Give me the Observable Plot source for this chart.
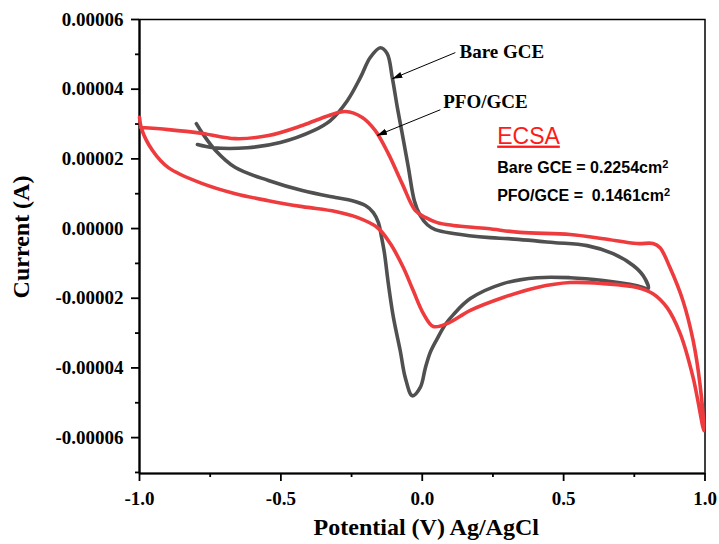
<!DOCTYPE html>
<html>
<head>
<meta charset="utf-8">
<script src="https://cdn.jsdelivr.net/npm/d3@7"></script>
<script src="https://cdn.jsdelivr.net/npm/@observablehq/plot@0.6"></script>
<style>
  html, body { margin: 0; padding: 0; background: #fff; }
</style>
</head>
<body>
<div id="chart"></div>
<script>
// Bare GCE cyclic voltammogram (potential V, current A)
const bareX = [-0.795, -0.739, -0.618, -0.502, -0.385, -0.325, -0.265, -0.219, -0.184, -0.148, -0.124, -0.106, -0.088, -0.071, -0.049, -0.028, -0.007, 0.018, 0.046, 0.110, 0.240, 0.304, 0.463, 0.583, 0.675, 0.746, 0.781, 0.799,
  0.760, 0.640, 0.523, 0.406, 0.286, 0.170, 0.110, 0.081, 0.053, 0.028, 0.011, -0.007, -0.035, -0.060, -0.078, -0.102, -0.120, -0.134, -0.145, -0.155, -0.173, -0.201, -0.247, -0.307, -0.424, -0.544, -0.661, -0.731, -0.777, -0.799];
const bareY = [2.41, 2.32, 2.32, 2.47, 2.81, 3.10, 3.67, 4.33, 4.91, 5.19, 5.02, 4.33, 3.47, 2.73, 1.75, 0.80, 0.37, 0.11, -0.03, -0.14, -0.26, -0.29, -0.40, -0.49, -0.72, -1.06, -1.35, -1.72,
  -1.64, -1.49, -1.41, -1.41, -1.58, -2.01, -2.47, -2.76, -3.16, -3.56, -4.00, -4.56, -4.80, -4.28, -3.50, -2.55, -1.58, -0.69, -0.20, 0.17, 0.46, 0.66, 0.80, 0.89, 1.09, 1.38, 1.75, 2.24, 2.73, 3.01].map(v => v * 1e-5);

// PFO/GCE cyclic voltammogram
const pfoX = [-0.996, -0.898, -0.777, -0.661, -0.544, -0.424, -0.332, -0.272, -0.212, -0.166, -0.120, -0.071, -0.025, 0.011, 0.053, 0.110, 0.230, 0.346, 0.523, 0.640, 0.760, 0.816, 0.841, 0.876, 0.922, 0.958, 0.982, 0.996,
  0.958, 0.912, 0.866, 0.816, 0.760, 0.640, 0.523, 0.406, 0.286, 0.170, 0.088, 0.039, 0.004, -0.032, -0.067, -0.113, -0.159, -0.230, -0.307, -0.424, -0.544, -0.661, -0.777, -0.898, -0.954, -0.993, -1.000];
const pfoY = [2.90, 2.84, 2.73, 2.58, 2.67, 2.96, 3.24, 3.36, 3.19, 2.81, 2.15, 1.29, 0.52, 0.32, 0.17, 0.09, 0.00, -0.11, -0.17, -0.29, -0.43, -0.43, -0.55, -1.12, -2.07, -3.21, -4.45, -5.80,
  -4.28, -3.01, -2.27, -1.87, -1.69, -1.58, -1.55, -1.69, -1.98, -2.35, -2.73, -2.81, -2.44, -1.78, -1.12, -0.43, 0.03, 0.32, 0.49, 0.63, 0.80, 1.00, 1.29, 1.75, 2.24, 2.87, 3.19].map(v => v * 1e-5);

// axes
const xDomain = [-1, 1];
const yDomain = [-7.03e-5, 6e-5];
const xMajor = [-1, -0.5, 0, 0.5, 1];
const xMinor = [-0.75, -0.25, 0.25, 0.75];
const yMajor = [-6e-5, -4e-5, -2e-5, 0, 2e-5, 4e-5, 6e-5];
const yMinor = [-7e-5, -5e-5, -3e-5, -1e-5, 1e-5, 3e-5, 5e-5];
const xLabel = "Potential (V) Ag/AgCl";
const yLabel = "Current (A)";

// annotations
const seriesNames = ["Bare GCE", "PFO/GCE"];
const nameX = [0.132, 0.074];
const nameY = [5.06e-5, 3.64e-5];
const arrowX1 = [0.117, 0.064];
const arrowY1 = [5.05e-5, 3.41e-5];
const arrowX2 = [-0.106, -0.160];
const arrowY2 = [4.30e-5, 2.67e-5];
const ecsaTitle = "ECSA";
const ecsaLines = ["Bare GCE = 0.2254cm\u00B2", "PFO/GCE =\u00A0 0.1461cm\u00B2"];
const ecsaX = 0.265;
const ecsaTitleY = 2.65e-5;
const ecsaLineY = [1.75e-5, 0.93e-5];

const grayColor = "#505050";
const redColor = "#ee3b3e";

const bare = bareX.map((x, i) => ({x, y: bareY[i]}));
const pfo = pfoX.map((x, i) => ({x, y: pfoY[i]}));
const names = seriesNames.map((t, i) => ({t, x: nameX[i], y: nameY[i]}));
const arrows = arrowX1.map((x1, i) => ({x1, y1: arrowY1[i], x2: arrowX2[i], y2: arrowY2[i]}));
const ecsa = ecsaLines.map((t, i) => ({t, x: ecsaX, y: ecsaLineY[i]}));

const serif = "'Liberation Serif', 'Times New Roman', serif";
const sans = "'Liberation Sans', Arial, sans-serif";

const chart = Plot.plot({
  width: 719,
  height: 544,
  marginLeft: 139,
  marginRight: 14.5,
  marginTop: 19,
  marginBottom: 71,
  style: {fontFamily: serif, background: "white", color: "black"},
  x: {domain: xDomain},
  y: {domain: yDomain},
  marks: [
    Plot.frame({stroke: "black", strokeWidth: 1.5}),
    Plot.ruleX([xDomain[0]], {stroke: "black", strokeWidth: 2.2}),
    Plot.ruleY([yDomain[0]], {stroke: "black", strokeWidth: 2.2}),
    Plot.axisY({ticks: yMajor, tickSize: 8, tickPadding: 8, strokeWidth: 1.8,
      tickFormat: d => d.toFixed(5), label: null, fontSize: 19, fontWeight: "bold", fontFamily: serif}),
    Plot.axisY({ticks: yMinor, tickSize: 4, strokeWidth: 1.8, text: null, label: null}),
    Plot.axisX({ticks: xMajor, tickSize: 8, tickPadding: 10, strokeWidth: 1.8,
      tickFormat: d => d.toFixed(1), label: null, fontSize: 19, fontWeight: "bold", fontFamily: serif}),
    Plot.axisX({ticks: xMinor, tickSize: 4, strokeWidth: 1.8, text: null, label: null}),
    Plot.text([yLabel], {frameAnchor: "left", textAnchor: "middle", lineAnchor: "middle", dx: -118, dy: -9.5, rotate: -90, fontSize: 24, fontWeight: "bold", fontFamily: serif, fill: "black"}),
    Plot.text([xLabel], {frameAnchor: "bottom", textAnchor: "middle", lineAnchor: "middle", dx: 4, dy: 54, fontSize: 24, fontWeight: "bold", fontFamily: serif, fill: "black"}),
    Plot.line(bare, {x: "x", y: "y", stroke: grayColor, strokeWidth: 3.6, curve: "catmull-rom"}),
    Plot.line(pfo, {x: "x", y: "y", stroke: redColor, strokeWidth: 3.6, curve: "catmull-rom"}),
    Plot.link(arrows, {x1: "x1", y1: "y1", x2: "x2", y2: "y2", stroke: "black", strokeWidth: 1, markerEnd: "arrow"}),
    Plot.text(names, {x: "x", y: "y", text: "t", textAnchor: "start", lineAnchor: "middle", fontSize: 19, fontWeight: "bold", fontFamily: serif, fill: "black"}),
    Plot.text([ecsaTitle], {x: () => ecsaX, y: () => ecsaTitleY, textAnchor: "start", lineAnchor: "middle", fontSize: 23, fontFamily: sans, fill: "#ff1a1a"}),
    Plot.text(ecsa, {x: "x", y: "y", text: "t", textAnchor: "start", lineAnchor: "middle", fontSize: 16, fontWeight: "bold", fontFamily: sans, fill: "black"})
  ]
});

document.getElementById("chart").appendChild(chart);

// filled arrowheads
chart.querySelectorAll("marker").forEach(m => {
  m.setAttribute("viewBox", "-10 -4 11 8");
  m.setAttribute("markerWidth", "11");
  m.setAttribute("markerHeight", "8");
  m.setAttribute("fill", "black");
  m.setAttribute("stroke", "none");
  const p = m.querySelector("path");
  if (p) p.setAttribute("d", "M-10,-3.2L0,0L-10,3.2Z");
});
// underline ECSA, real superscripts
chart.querySelectorAll("text").forEach(t => {
  const s = t.textContent;
  if (s === ecsaTitle) t.setAttribute("text-decoration", "underline");
  if (s.endsWith("\u00B2")) {
    t.textContent = s.slice(0, -1);
    const sup = document.createElementNS("http://www.w3.org/2000/svg", "tspan");
    sup.setAttribute("dy", "-0.45em");
    sup.setAttribute("font-size", "11");
    sup.textContent = "2";
    t.appendChild(sup);
  }
});
</script>
</body>
</html>
